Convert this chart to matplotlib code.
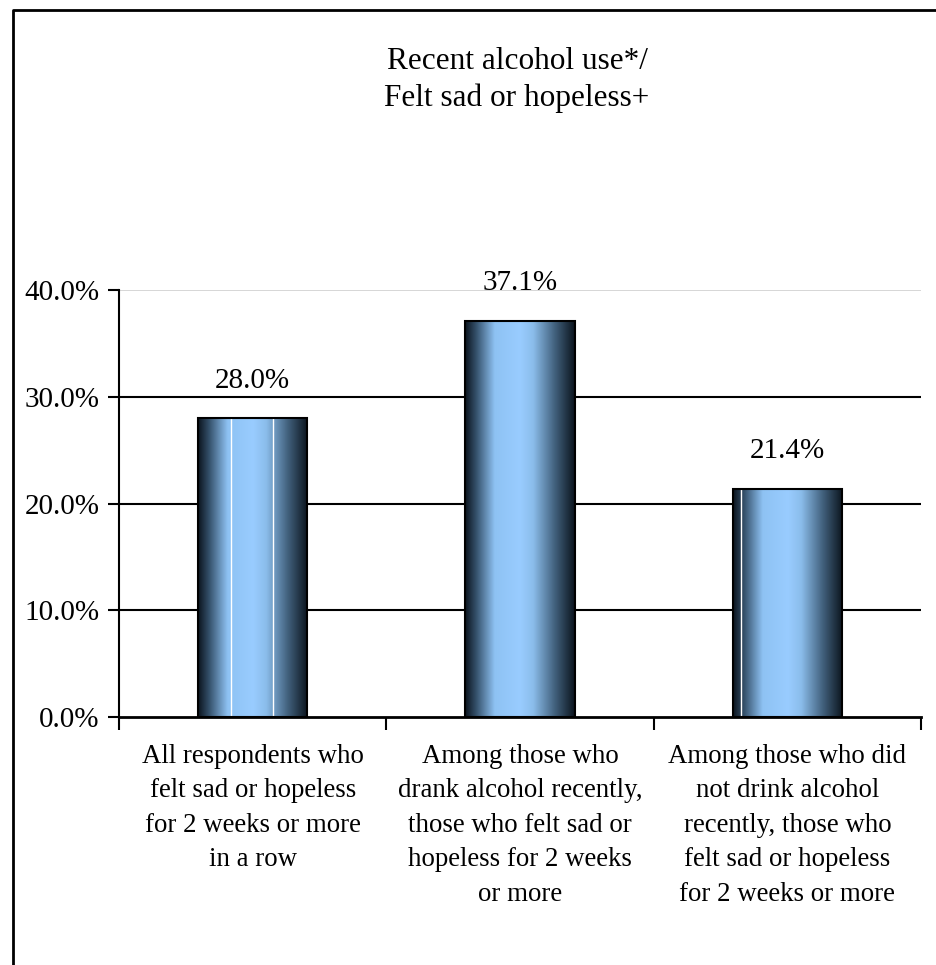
import matplotlib.pyplot as plt
import numpy as np
from matplotlib.colors import LinearSegmentedColormap
from matplotlib.lines import Line2D

plt.rcParams['font.family'] = ['Liberation Serif', 'DejaVu Serif']

categories = [
    'All respondents who\nfelt sad or hopeless\nfor 2 weeks or more\nin a row',
    'Among those who\ndrank alcohol recently,\nthose who felt sad or\nhopeless for 2 weeks\nor more',
    'Among those who did\nnot drink alcohol\nrecently, those who\nfelt sad or hopeless\nfor 2 weeks or more',
]
values = [28.0, 37.1, 21.4]
yticks = [0, 10, 20, 30, 40]
title = 'Recent alcohol use*/\nFelt sad or hopeless+'

# bar shading: dark edges, light blue middle
cmap = LinearSegmentedColormap.from_list('bar', [
    (0.0, '#0b141d'), (0.1, '#34506a'), (0.27, '#8ec2f3'),
    (0.5, '#99ccff'), (0.62, '#8bbdeb'), (0.82, '#41607c'), (1.0, '#0b141d')])
grad = np.linspace(0, 1, 256).reshape(1, -1)
# thin white streaks the original export left inside some bars (fraction of bar width)
streaks = {0: [0.30, 0.69], 2: [0.08]}

fig = plt.figure(figsize=(9.36, 9.65), dpi=100)
ax = fig.add_axes([119 / 936, 248 / 965, 802 / 936, 427 / 965])

x = np.arange(len(values))
bars = ax.bar(x, values, width=0.41, color='none', edgecolor='black', linewidth=1.5, zorder=3)
for i, b in enumerate(bars):
    x0, y0, w, h = b.get_x(), b.get_y(), b.get_width(), b.get_height()
    im = ax.imshow(grad, cmap=cmap, aspect='auto', extent=(x0, x0 + w, y0, y0 + h), zorder=2)
    im.set_clip_path(b)
    for f in streaks.get(i, []):
        ax.plot([x0 + f * w] * 2, [y0, y0 + h], color='white', linewidth=1, zorder=2.5)

for xi, v in zip(x, values):
    ax.text(xi, v + 2.3, f'{v:.1f}%', ha='center', va='bottom', fontsize=21)

ax.set_xlim(-0.5, len(values) - 0.5)
ax.set_ylim(0, 40)
for t in yticks[1:-1]:
    ax.axhline(t, color='black', linewidth=1.5, zorder=1)
ax.axhline(40, color='#d0d0d0', linewidth=1.2, zorder=1)

ax.set_yticks(yticks)
ax.set_yticklabels([f'{t:.1f}%' for t in yticks], fontsize=21)
ax.set_xticks(np.arange(len(values) + 1) - 0.5, minor=True)
ax.set_xticks([])
ax.tick_params(axis='x', which='minor', direction='out', length=9, width=1.5)
ax.tick_params(axis='y', direction='out', length=8, width=1.5, pad=6)

for s in ['top', 'right']:
    ax.spines[s].set_visible(False)
ax.spines['left'].set_linewidth(1.5)
ax.spines['bottom'].set_linewidth(2)

for xi, lab in zip(x, categories):
    ax.text(xi, -2.5, lab, ha='center', va='top', fontsize=19.4, linespacing=1.5)

fig.text(517 / 936, 1 - 80 / 965, title, ha='center', va='center', fontsize=22.5, linespacing=1.35)

# outer chart frame (only top and left show in the crop)
fig.add_artist(Line2D([13 / 936, 13 / 936, 1], [0, 1 - 10 / 965, 1 - 10 / 965],
                      transform=fig.transFigure, color='black', linewidth=2))

fig.savefig('out.png', dpi=100)
